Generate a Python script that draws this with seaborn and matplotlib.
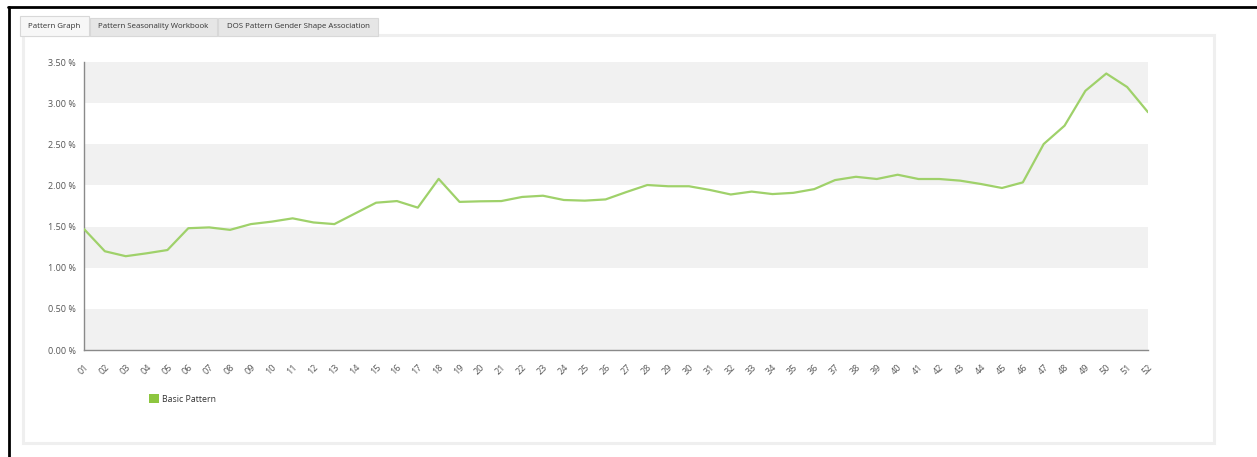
import matplotlib
matplotlib.use("Agg")
import matplotlib.pyplot as plt
import seaborn as sns
import pandas as pd
from matplotlib.patches import Rectangle, Patch
from matplotlib.lines import Line2D
from matplotlib.ticker import FuncFormatter, MultipleLocator

weeks = [f"{i:02d}" for i in range(1, 53)]
basic_pattern = [
    1.47, 1.20, 1.14, 1.175, 1.215, 1.48, 1.49, 1.46, 1.53, 1.56,
    1.60, 1.55, 1.53, 1.66, 1.79, 1.81, 1.73, 2.08, 1.80, 1.807,
    1.81, 1.86, 1.875, 1.823, 1.815, 1.83, 1.92, 2.005, 1.99, 1.99,
    1.945, 1.89, 1.925, 1.895, 1.91, 1.955, 2.065, 2.105, 2.078, 2.13,
    2.078, 2.078, 2.058, 2.017, 1.969, 2.037, 2.503, 2.726, 3.15, 3.36,
    3.196, 2.89,
]
series_name = "Basic Pattern"
tab_labels = ["Pattern Graph", "Pattern Seasonality Workbook", "DOS Pattern Gender Shape Association"]

df = pd.DataFrame({"week": weeks, "value": basic_pattern, "pos": range(len(weeks))})

sns.set_theme(style="white")
plt.rcParams["font.family"] = ["Open Sans", "DejaVu Sans"]

W, H = 1257, 457
fig = plt.figure(figsize=(W / 100, H / 100), dpi=100)
fig.patch.set_facecolor("white")

def fx(x):
    return x / W

def fy(y):
    return 1 - y / H

# outer black frame (screenshot border)
fig.add_artist(Line2D([fx(8), fx(W)], [fy(7), fy(7)], color="black", lw=2.0,
                      transform=fig.transFigure, zorder=-2))
fig.add_artist(Line2D([fx(9), fx(9)], [fy(7), fy(H)], color="black", lw=2.0,
                      transform=fig.transFigure, zorder=-2))

# panel
fig.add_artist(Rectangle((fx(23), fy(443)), fx(1214) - fx(23), fy(35) - fy(443),
                         transform=fig.transFigure, facecolor="white", edgecolor="#efefef",
                         lw=2.2, zorder=-3))

# tabs
tab_x = [(20, 89), (90, 217), (218, 378)]
for i, ((x0, x1), lab) in enumerate(zip(tab_x, tab_labels)):
    top = 16 if i == 0 else 18
    face = "#f7f7f7" if i == 0 else "#e6e6e6"
    fig.add_artist(Rectangle((fx(x0), fy(36)), fx(x1) - fx(x0), fy(top) - fy(36),
                             transform=fig.transFigure, facecolor=face, edgecolor="#d8d8d8",
                             lw=0.8, zorder=-1))
    fig.text(fx((x0 + x1) / 2), fy(26), lab, ha="center", va="center", fontsize=5.7, color="#333333")

ax = fig.add_axes([fx(84), fy(350), fx(1148) - fx(84), fy(62) - fy(350)])
ax.set_facecolor("white")
ax.set_zorder(2)

for lo in [0.0, 1.0, 2.0, 3.0]:
    ax.axhspan(lo, lo + 0.5, color="#f1f1f1", lw=0, zorder=0)

sns.lineplot(data=df, x="pos", y="value", ax=ax, color="#9fd16a", lw=1.6, legend=False, zorder=3)

ax.set_xlim(0, len(weeks) - 1)
ax.set_ylim(0, 3.5)
ax.yaxis.set_major_locator(MultipleLocator(0.5))
ax.yaxis.set_major_formatter(FuncFormatter(lambda v, p: f"{v:.2f} %"))
ax.set_xticks(df["pos"])
ax.set_xticklabels(df["week"], rotation=45, ha="right", rotation_mode="anchor")
ax.set_xlabel("")
ax.set_ylabel("")

for s in ["top", "right"]:
    ax.spines[s].set_visible(False)
for s in ["left", "bottom"]:
    ax.spines[s].set_color("#8a8a8a")
    ax.spines[s].set_linewidth(1.0)

ax.tick_params(axis="both", which="major", direction="out", length=4, width=0.8,
               color="#8a8a8a", labelsize=6.5, labelcolor="#555555", pad=2)
ax.tick_params(axis="x", pad=5)
for lbl in ax.get_xticklabels():
    lbl.set_x(lbl.get_position()[0])

leg = ax.legend(handles=[Patch(facecolor="#8dc63f", edgecolor="none", label=series_name)],
                loc="center left", bbox_to_anchor=(fx(145), fy(399)), bbox_transform=fig.transFigure,
                frameon=False, fontsize=6.3, handlelength=1.1, handleheight=1.1, handletextpad=0.4,
                borderpad=0)
for t in leg.get_texts():
    t.set_color("#333333")

fig.savefig("out.png", dpi=100)
